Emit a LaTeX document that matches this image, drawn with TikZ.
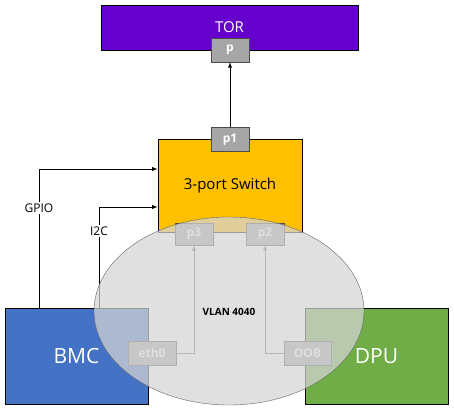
\documentclass[tikz,border=0pt]{standalone}
\usepackage{fontspec}
\setmainfont{Open Sans}
\usetikzlibrary{arrows,positioning,shapes.geometric,calc}

\definecolor{torcol}{HTML}{6600CC}
\definecolor{swcol}{HTML}{FFC000}
\definecolor{bmccol}{HTML}{4472C4}
\definecolor{dpucol}{HTML}{70AD47}
\definecolor{portcol}{HTML}{A6A6A6}
\definecolor{vlancol}{HTML}{D4D4D4}

\tikzset{
  box/.style={draw=black,line width=0.8pt,minimum width=#1},
  port/.style={draw=black!70,fill=portcol,text=white,font=\bfseries\fontsize{12}{14}\selectfont,
    minimum width=38pt,minimum height=24pt,inner sep=0pt},
  wire/.style={line width=0.9pt},
  sig/.style={fill=white,inner sep=1.5pt,font=\fontsize{12}{14}\selectfont}
}

\begin{document}
\begin{tikzpicture}[x=1pt,y=-1pt]
    \useasboundingbox (0,0) rectangle (454,411);
    % boxes
    \node[box=257pt,fill=torcol,minimum height=45pt,text=white,font=\fontsize{15}{17}\selectfont] (TOR) at (229.5,27.5) {\raisebox{1.5pt}{TOR}};
    \node[box=144pt,fill=swcol,minimum height=93pt,font=\fontsize{15}{17}\selectfont] (SW) at (230,186) {\raisebox{-1.5pt}{3-port Switch}};
    \node[box=143pt,fill=bmccol,minimum height=96pt,text=white,font=\fontsize{21}{25}\selectfont] (BMC) at (76.5,356) {BMC};
    \node[box=143pt,fill=dpucol,minimum height=96pt,text=white,font=\fontsize{21}{25}\selectfont] (DPU) at (376.5,356) {DPU};
    % ports
    \node[port] (p) at (230,50) {p};
    \node[port] (p1) at (230,139.5) {p1};
    \node[port,minimum height=22pt] (p3) at (194,234) {p3};
    \node[port,minimum height=22pt] (p2) at (265,234) {p2};
    \node[port,minimum width=48pt] (eth0) at (152,353) {eth0};
    \node[port,minimum width=47pt] (OOB) at (307.5,353) {OOB};
    % links
    \draw[-latex,wire] (p1) -- (p);
    \draw[-latex,wire] ([xshift=-37.5pt]BMC.north) |- ([yshift=17pt]SW.west)
      node[sig,pos=0.36] {GPIO};
    \draw[-latex,wire] ([xshift=22.5pt]BMC.north) |- ([yshift=-21pt]SW.west)
      node[sig,pos=0.38] {I2C};
    \draw[-latex,wire,black!60] (eth0) -| (p3);
    \draw[-latex,wire,black!60] (OOB) -| (p2);
    % vlan
    \node[ellipse,draw=black!60,fill=vlancol,fill opacity=0.73,minimum width=270pt,minimum height=188pt] (VLAN) at (229,311) {};
    \node[font=\bfseries\fontsize{10}{12}\selectfont] (vlanlbl) at (229,312) {VLAN 4040};
\end{tikzpicture}
\end{document}
